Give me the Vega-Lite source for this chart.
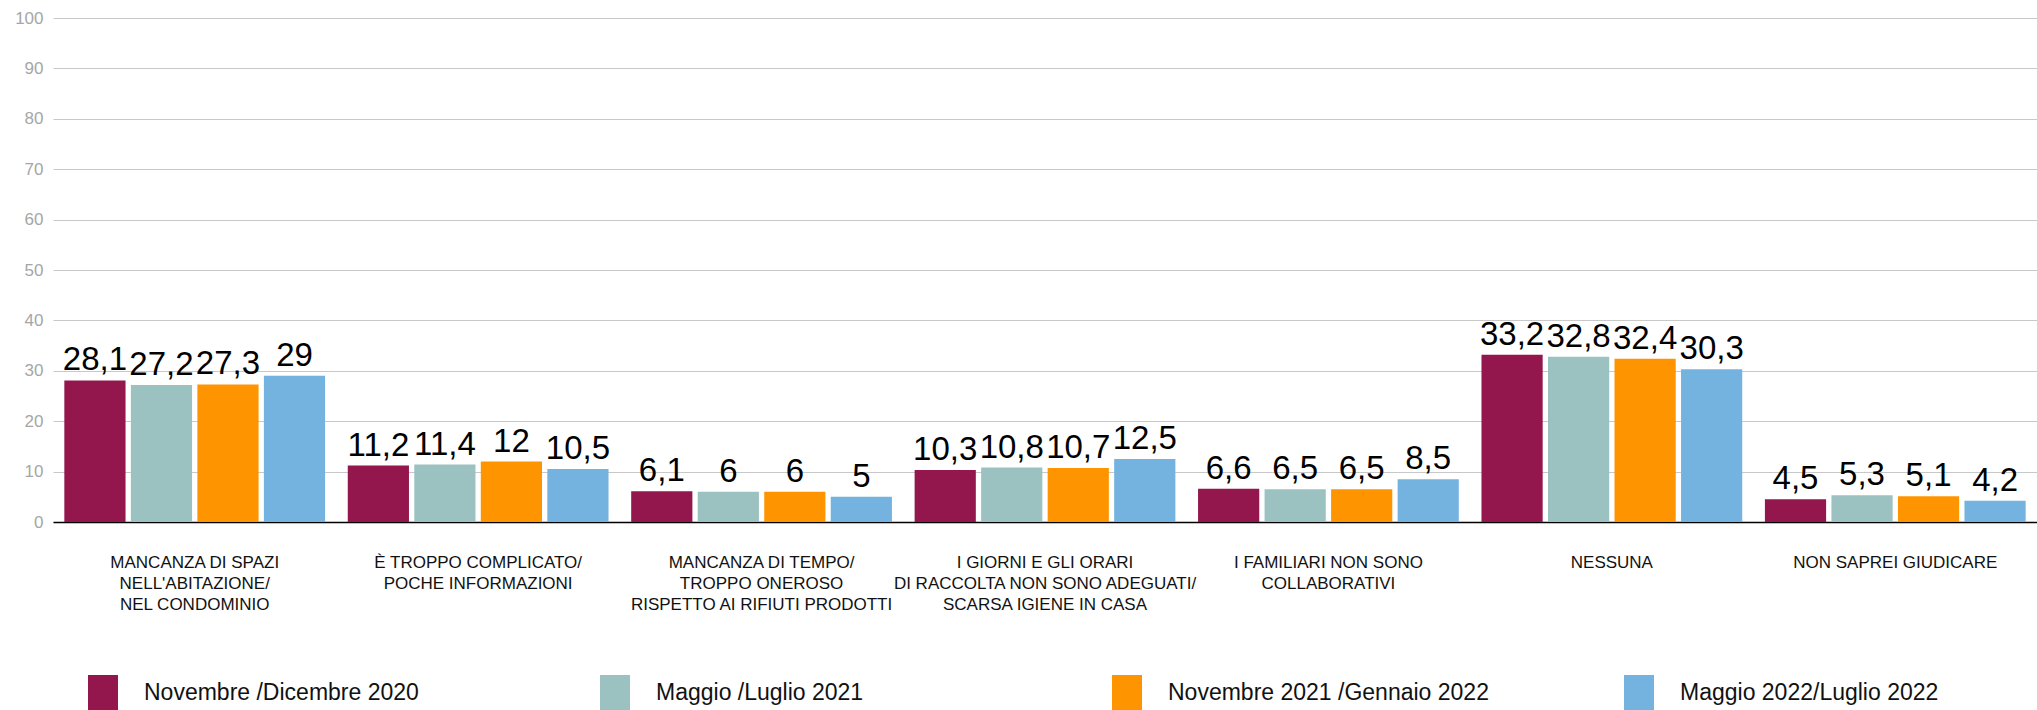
{
  "$schema": "https://vega.github.io/schema/vega-lite/v6.json",
  "width": 1984,
  "height": 504,
  "autosize": {"type": "none"},
  "padding": {"left": 53, "top": 18, "right": 0, "bottom": 188},
  "background": "white",
  "config": {
    "locale": {"number": {"decimal": ",", "thousands": ".", "grouping": [3], "currency": ["", " €"]}},
    "view": {"stroke": null},
    "font": "Liberation Sans"
  },
  "data": {
    "values": [
      {"cat": "MANCANZA DI SPAZI|NELL'ABITAZIONE/|NEL CONDOMINIO", "period": "Novembre /Dicembre 2020", "v": 28.1},
      {"cat": "MANCANZA DI SPAZI|NELL'ABITAZIONE/|NEL CONDOMINIO", "period": "Maggio /Luglio 2021", "v": 27.2},
      {"cat": "MANCANZA DI SPAZI|NELL'ABITAZIONE/|NEL CONDOMINIO", "period": "Novembre 2021 /Gennaio 2022", "v": 27.3},
      {"cat": "MANCANZA DI SPAZI|NELL'ABITAZIONE/|NEL CONDOMINIO", "period": "Maggio 2022/Luglio 2022", "v": 29},
      {"cat": "È TROPPO COMPLICATO/|POCHE INFORMAZIONI", "period": "Novembre /Dicembre 2020", "v": 11.2},
      {"cat": "È TROPPO COMPLICATO/|POCHE INFORMAZIONI", "period": "Maggio /Luglio 2021", "v": 11.4},
      {"cat": "È TROPPO COMPLICATO/|POCHE INFORMAZIONI", "period": "Novembre 2021 /Gennaio 2022", "v": 12},
      {"cat": "È TROPPO COMPLICATO/|POCHE INFORMAZIONI", "period": "Maggio 2022/Luglio 2022", "v": 10.5},
      {"cat": "MANCANZA DI TEMPO/|TROPPO ONEROSO|RISPETTO AI RIFIUTI PRODOTTI", "period": "Novembre /Dicembre 2020", "v": 6.1},
      {"cat": "MANCANZA DI TEMPO/|TROPPO ONEROSO|RISPETTO AI RIFIUTI PRODOTTI", "period": "Maggio /Luglio 2021", "v": 6},
      {"cat": "MANCANZA DI TEMPO/|TROPPO ONEROSO|RISPETTO AI RIFIUTI PRODOTTI", "period": "Novembre 2021 /Gennaio 2022", "v": 6},
      {"cat": "MANCANZA DI TEMPO/|TROPPO ONEROSO|RISPETTO AI RIFIUTI PRODOTTI", "period": "Maggio 2022/Luglio 2022", "v": 5},
      {"cat": "I GIORNI  E GLI ORARI|DI RACCOLTA NON SONO ADEGUATI/|SCARSA IGIENE IN CASA", "period": "Novembre /Dicembre 2020", "v": 10.3},
      {"cat": "I GIORNI  E GLI ORARI|DI RACCOLTA NON SONO ADEGUATI/|SCARSA IGIENE IN CASA", "period": "Maggio /Luglio 2021", "v": 10.8},
      {"cat": "I GIORNI  E GLI ORARI|DI RACCOLTA NON SONO ADEGUATI/|SCARSA IGIENE IN CASA", "period": "Novembre 2021 /Gennaio 2022", "v": 10.7},
      {"cat": "I GIORNI  E GLI ORARI|DI RACCOLTA NON SONO ADEGUATI/|SCARSA IGIENE IN CASA", "period": "Maggio 2022/Luglio 2022", "v": 12.5},
      {"cat": "I FAMILIARI NON SONO|COLLABORATIVI", "period": "Novembre /Dicembre 2020", "v": 6.6},
      {"cat": "I FAMILIARI NON SONO|COLLABORATIVI", "period": "Maggio /Luglio 2021", "v": 6.5},
      {"cat": "I FAMILIARI NON SONO|COLLABORATIVI", "period": "Novembre 2021 /Gennaio 2022", "v": 6.5},
      {"cat": "I FAMILIARI NON SONO|COLLABORATIVI", "period": "Maggio 2022/Luglio 2022", "v": 8.5},
      {"cat": "NESSUNA", "period": "Novembre /Dicembre 2020", "v": 33.2},
      {"cat": "NESSUNA", "period": "Maggio /Luglio 2021", "v": 32.8},
      {"cat": "NESSUNA", "period": "Novembre 2021 /Gennaio 2022", "v": 32.4},
      {"cat": "NESSUNA", "period": "Maggio 2022/Luglio 2022", "v": 30.3},
      {"cat": "NON SAPREI GIUDICARE", "period": "Novembre /Dicembre 2020", "v": 4.5},
      {"cat": "NON SAPREI GIUDICARE", "period": "Maggio /Luglio 2021", "v": 5.3},
      {"cat": "NON SAPREI GIUDICARE", "period": "Novembre 2021 /Gennaio 2022", "v": 5.1},
      {"cat": "NON SAPREI GIUDICARE", "period": "Maggio 2022/Luglio 2022", "v": 4.2}
    ]
  },
  "encoding": {
    "x": {
      "field": "cat", "type": "nominal", "sort": null,
      "scale": {"paddingInner": 0.08, "paddingOuter": 0.04},
      "axis": {
        "title": null, "labelAngle": 0, "labelExpr": "split(datum.label, '|')",
        "labelFont": "Liberation Sans", "labelFontSize": 17, "labelLineHeight": 21,
        "labelColor": "#111111", "labelPadding": 32, "labelLimit": 0, "labelOverlap": false, "labelBound": false,
        "ticks": false, "domain": true, "domainColor": "#000000", "domainWidth": 1.5, "grid": false
      }
    },
    "xOffset": {"field": "period", "type": "nominal", "sort": null, "scale": {"paddingInner": 0.08, "paddingOuter": 0}},
    "y": {
      "field": "v", "type": "quantitative",
      "scale": {"domain": [0, 100], "nice": false},
      "axis": {
        "title": null, "values": [0, 10, 20, 30, 40, 50, 60, 70, 80, 90, 100],
        "domain": false, "ticks": false, "labelFont": "Liberation Sans", "labelFontSize": 17,
        "labelColor": "#a6a6a6", "labelPadding": 10, "gridColor": "#c8c8c8", "gridWidth": 1
      }
    }
  },
  "layer": [
    {
      "mark": {"type": "bar"},
      "encoding": {
        "color": {
          "field": "period", "type": "nominal", "sort": null,
          "scale": {
            "domain": ["Novembre /Dicembre 2020", "Maggio /Luglio 2021", "Novembre 2021 /Gennaio 2022", "Maggio 2022/Luglio 2022"],
            "range": ["#93164c", "#9bc1c1", "#fe9400", "#74b3e0"]
          },
          "legend": {
            "title": null, "orient": "none", "legendX": 35, "legendY": 660, "padding": 0,
            "direction": "horizontal", "columns": 4, "columnPadding": 135, "gridAlign": "all",
            "symbolType": "M-1,-1.2H1V1.2H-1Z", "symbolSize": 900, "symbolStrokeWidth": 0, "symbolOpacity": 1,
            "labelFont": "Liberation Sans", "labelFontSize": 23, "labelColor": "#111111", "labelOffset": 26, "labelLimit": 0
          }
        }
      }
    },
    {
      "mark": {"type": "text", "baseline": "alphabetic", "dy": -10, "fontSize": 33, "font": "Liberation Sans", "color": "#000000"},
      "encoding": {"text": {"field": "v", "type": "quantitative", "format": ".3~r"}}
    }
  ]
}
